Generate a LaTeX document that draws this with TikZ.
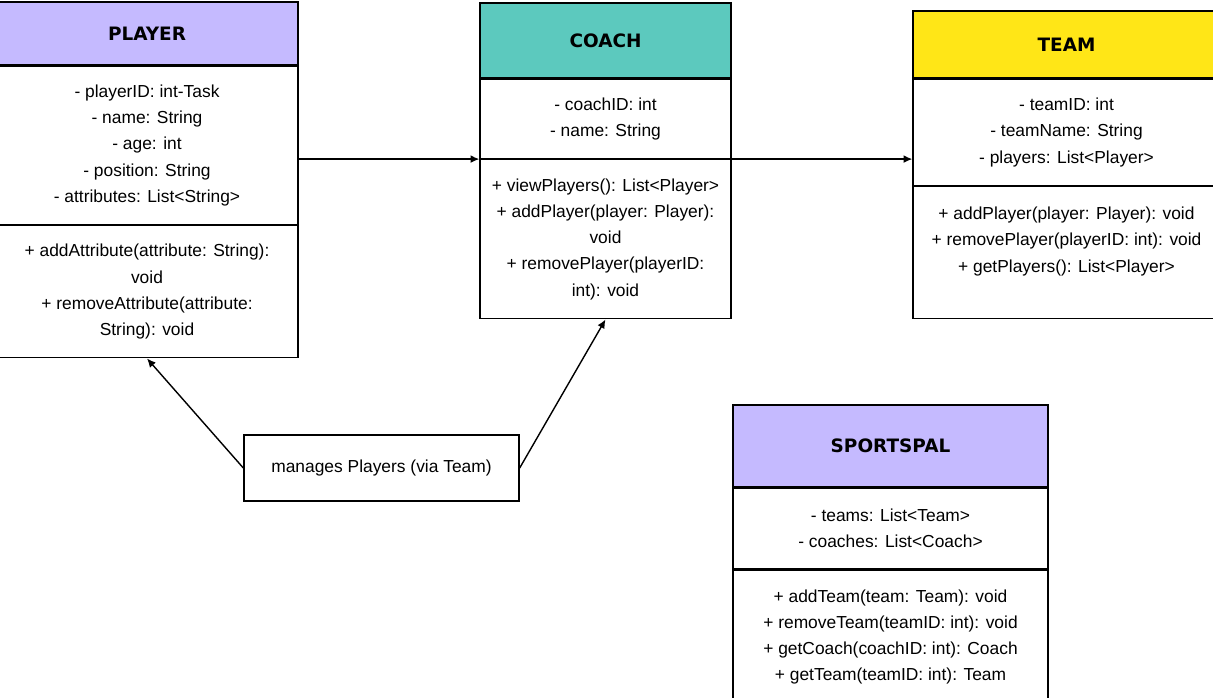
\documentclass[tikz,border=0pt]{standalone}
\usepackage{fontspec}
\setmainfont{Liberation Sans}
\newfontfamily\headfont{DejaVu Sans}
\usetikzlibrary{arrows.meta,positioning}
\definecolor{lavender}{HTML}{C5BAFF}
\definecolor{teal}{HTML}{5CC9BE}
\definecolor{sunny}{HTML}{FFE617}
\begin{document}
\begin{tikzpicture}[x=0.02cm,y=-0.02cm,
        part/.style={draw, line width=0.8pt, inner sep=0pt, align=center, fill=white,
            font=\fontsize{9.9}{14.9}\selectfont},
        head/.style={part, font=\headfont\bfseries\fontsize{10.5}{12}\selectfont},
        link/.style={-{Latex[length=5pt,width=4.5pt]}, line width=0.8pt}]
            \useasboundingbox (0,0) rectangle (1213,697);
            \node[head, fill=lavender, minimum width=6.04cm, minimum height=1.26cm] (player) at (147,33.5) {PLAYER};
            \node[part, minimum width=6.04cm, minimum height=3.16cm, below=0pt of player] (player-attr)
                {- playerID: int-Task\\ - name: String\\ - age: int\\ - position: String\\ - attributes: List<String>};
            \node[part, minimum width=6.04cm, minimum height=2.64cm, below=0pt of player-attr] (player-ops)
                {+ addAttribute(attribute: String):\\ void\\ + removeAttribute(attribute:\\ String): void};
            \node[head, fill=teal, minimum width=5.02cm, minimum height=1.5cm] (coach) at (605.5,40.5) {COACH};
            \node[part, minimum width=5.02cm, minimum height=1.58cm, below=0pt of coach] (coach-attr)
                {- coachID: int\\ - name: String};
            \node[part, minimum width=5.02cm, minimum height=3.18cm, below=0pt of coach-attr] (coach-ops)
                {+ viewPlayers(): List<Player>\\ + addPlayer(player: Player):\\ void\\ + removePlayer(playerID:\\ int): void};
            \node[head, fill=sunny, minimum width=6.14cm, minimum height=1.34cm] (team) at (1066.5,44.5) {TEAM};
            \node[part, minimum width=6.14cm, minimum height=2.12cm, below=0pt of team] (team-attr)
                {- teamID: int\\ - teamName: String\\ - players: List<Player>};
            \node[part, minimum width=6.14cm, minimum height=2.64cm, below=0pt of team-attr] (team-ops)
                {+ addPlayer(player: Player): void\\ + removePlayer(playerID: int): void\\ + getPlayers(): List<Player>\\ \mbox{}};
            \node[head, fill=lavender, minimum width=6.3cm, minimum height=1.64cm] (app) at (890.5,446) {SPORTSPAL};
            \node[part, minimum width=6.3cm, minimum height=1.6cm, below=0pt of app] (app-attr)
                {- teams: List<Team>\\ - coaches: List<Coach>};
            \node[part, minimum width=6.3cm, minimum height=2.68cm, below=0pt of app-attr] (app-ops)
                {+ addTeam(team: Team): void\\ + removeTeam(teamID: int): void\\ + getCoach(coachID: int): Coach\\ + getTeam(teamID: int): Team};
            \node[part, minimum width=5.5cm, minimum height=1.32cm] (manages) at (381.5,468) {manages Players (via Team)};
            \draw[link] (player-attr.east |- coach-ops.north west) -- (coach-ops.north west);
            \draw[link] (coach-ops.north east) -- (team-attr.west |- coach-ops.north east);
            \draw[link] (manages.west) -- (player-ops.south);
            \draw[link] (manages.east) -- (coach-ops.south);
        \end{tikzpicture}
\end{document}
